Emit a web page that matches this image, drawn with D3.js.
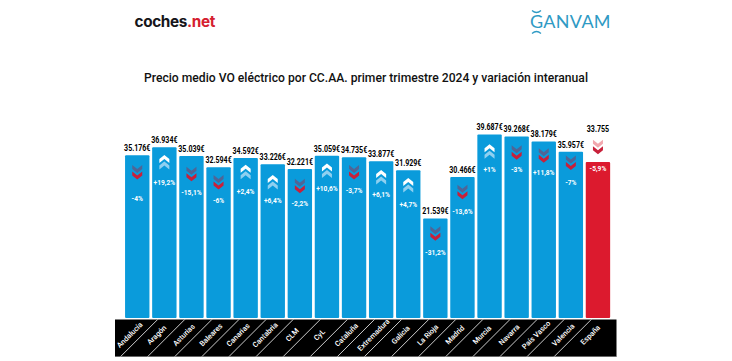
<!DOCTYPE html>
<html>
  <head>
    <meta charset="utf-8">
    <title>Precio medio VO eléctrico</title>
    <script src="https://d3js.org/d3.v7.min.js"></script>
    <style>
      html, body { margin: 0; padding: 0; background: #fff; }
      svg { display: block; }
    </style>
  </head>
  <body>
    <script>
      // ==================
      // Data
      // ==================
      const categories = ["Andalucía", "Aragón", "Asturias", "Baleares", "Canarias", "Cantabria", "CLM", "CyL", "Cataluña",
        "Extremadura", "Galicia", "La Rioja", "Madrid", "Murcia", "Navarra", "País Vasco", "Valencia", "España"];
      const prices = [35176, 36934, 35039, 32594, 34592, 33226, 32221, 35059, 34735,
        33877, 31929, 21539, 30466, 39687, 39268, 38179, 35957, 33755];
      const variation = [-4, 19.2, -15.1, -6, 2.4, 6.4, -2.2, 10.6, -3.7,
        6.1, 4.7, -31.2, -13.6, 1, -3, 11.8, -7, -5.9];
      // arrow as printed: País Vasco shows a down arrow next to a positive figure
      const arrows = ["down", "up", "down", "down", "up", "up", "down", "up", "down",
        "up", "up", "down", "down", "up", "down", "down", "down", "down"];

      const total = "España";
      const title = "Precio medio VO eléctrico por CC.AA. primer trimestre 2024 y variación interanual";

      // ==================
      // Layout
      // ==================
      const width = 732;
      const height = 361;
      const blue = "#0a9bdb";
      const red = "#dc1a2e";

      // arrow and label nudges [arrow, label] from the default spot under the bar top
      const nudges = {
        "Andalucía": [2, 9], "Aragón": [0, 1], "Asturias": [3, 3], "Baleares": [0, -1], "Canarias": [-1, -1],
        "Cantabria": [3, 2], "CLM": [2, 1], "CyL": [0, -1], "Cataluña": [0, -1], "Extremadura": [1, -1],
        "Murcia": [2, 1], "Navarra": [1, -1], "País Vasco": [-1, -3], "Valencia": [-4, -3], "España": [-30, -27]
      };

      const es = d3.formatLocale({decimal: ",", thousands: ".", grouping: [3], currency: ["", "€"], minus: "-"});
      const priceFormat = es.format("$,");
      const plainFormat = es.format(",");
      const varFormat = es.format("+.1~f");

      const svg = d3.select("body").append("svg")
        .attr("width", width)
        .attr("height", height)
        .style("font-family", "Roboto, sans-serif");

      const x = d3.scaleBand()
        .domain(categories)
        .range([123.7, 611.5])
        .paddingInner(0.1)
        .paddingOuter(0.05);

      const y = d3.scaleLinear()
        .domain([0, 40000])
        .range([318, 133]);

      const data = categories.map(function(c, i) {
        return {name: c, price: prices[i], change: variation[i], arrow: arrows[i]};
      });

      // ==================
      // Logos and title
      // ==================
      const coches = svg.append("text")
        .attr("x", 134.5)
        .attr("y", 27)
        .attr("font-family", "Inter, sans-serif")
        .attr("font-weight", 700)
        .attr("font-size", 15.3)
        .attr("letter-spacing", -0.35);
      coches.append("tspan").attr("fill", "#16151a").text("coches");
      coches.append("tspan").attr("fill", "#d5202f").text(".net");

      svg.append("text")
        .attr("x", 530)
        .attr("y", 28)
        .attr("fill", "#2f9ac4")
        .attr("font-family", "Lato, sans-serif")
        .attr("font-size", 18)
        .attr("letter-spacing", 0.3)
        .text("GANVAM");

      // small arcs above and below the G
      svg.append("path")
        .attr("d", "M532,10.5 Q536.5,14.5 541,10.5 M532,33.5 Q536.5,29.5 541,33.5")
        .attr("fill", "none")
        .attr("stroke", "#2f9ac4")
        .attr("stroke-width", 1.2);

      svg.append("text")
        .attr("x", 366)
        .attr("y", 81.5)
        .attr("text-anchor", "middle")
        .attr("font-weight", 500)
        .attr("font-size", 12.15)
        .attr("fill", "#111")
        .text(title);

      // ==================
      // Bars
      // ==================
      svg.append("g").selectAll("rect")
        .data(data)
        .join("rect")
          .attr("x", function(d) { return x(d.name); })
          .attr("y", function(d) { return y(d.price); })
          .attr("width", x.bandwidth())
          .attr("height", function(d) { return y(0) - y(d.price); })
          .attr("rx", 1)
          .attr("fill", function(d) { return d.name === total ? red : blue; });

      // value above each bar, squeezed horizontally to look condensed like the original
      svg.append("g").selectAll("text")
        .data(data)
        .join("text")
          .attr("transform", function(d) {
            const labelX = x(d.name) + x.bandwidth() / 2;
            const labelY = y(d.price) - (d.name === total ? 30 : 4);
            return "translate(" + labelX + "," + labelY + ") scale(0.84,1)";
          })
          .attr("text-anchor", "middle")
          .attr("font-weight", 700)
          .attr("font-size", 8.4)
          .attr("fill", "#000")
          .text(function(d) { return d.name === total ? plainFormat(d.price) : priceFormat(d.price); });

      // ==================
      // Arrows
      // ==================
      function chevron(cy, dir) {
        // arm half width 5, thickness 4, tip 4 past the shoulders
        const s = dir === "up" ? -1 : 1;
        return d3.line()([
          [-5, cy - s * 4], [0, cy], [5, cy - s * 4],
          [5, cy], [0, cy + s * 4], [-5, cy]
        ]) + "Z";
      }

      function nudge(d, i) {
        return (nudges[d.name] || [0, 0])[i];
      }

      const arrowGroups = svg.append("g").selectAll("g")
        .data(data)
        .join("g")
          .attr("transform", function(d) {
            return "translate(" + (x(d.name) + x.bandwidth() / 2) + "," + (y(d.price) + 15 + nudge(d, 0)) + ")";
          });

      // back chevron, further from the tip
      arrowGroups.append("path")
        .attr("d", function(d) { return chevron(d.arrow === "up" ? 3.25 : -3.25, d.arrow); })
        .attr("fill", function(d) {
          if (d.name === total) return "#f2a7ae";
          return d.arrow === "up" ? "#8fd0f0" : "#4f6596";
        });

      // front chevron
      arrowGroups.append("path")
        .attr("d", function(d) { return chevron(d.arrow === "up" ? -3.25 : 3.25, d.arrow); })
        .attr("fill", function(d) { return d.arrow === "up" ? "#fff" : "#c8203a"; });

      // variation label inside the bar
      svg.append("g").selectAll("text")
        .data(data)
        .join("text")
          .attr("x", function(d) { return x(d.name) + x.bandwidth() / 2; })
          .attr("y", function(d) { return y(d.price) + 36.5 + nudge(d, 1); })
          .attr("text-anchor", "middle")
          .attr("font-weight", 700)
          .attr("font-size", 6.6)
          .attr("fill", "#fff")
          .text(function(d) { return varFormat(d.change) + "%"; });

      // ==================
      // Black category strip
      // ==================
      const stripTop = 319.5;
      const stripBottom = 356.5;

      svg.append("rect")
        .attr("x", 115)
        .attr("y", stripTop)
        .attr("width", 501.5)
        .attr("height", stripBottom - stripTop)
        .attr("fill", "#000");

      svg.append("line")
        .attr("x1", 115)
        .attr("x2", 616.5)
        .attr("y1", stripBottom)
        .attr("y2", stripBottom)
        .attr("stroke", "#666");

      // slanted separators, one before each category but the first
      svg.append("g").selectAll("line")
        .data(categories.slice(1))
        .join("line")
          .attr("x1", function(c) { return x(c) + 5.5; })
          .attr("x2", function(c) { return x(c) + 5.5 - 37; })
          .attr("y1", stripTop)
          .attr("y2", stripBottom)
          .attr("stroke", "#fff")
          .attr("stroke-width", 0.8);

      const xAxis = d3.axisBottom(x).tickSize(0);

      const axisGroup = svg.append("g")
        .attr("transform", "translate(-7.5,335)")
        .call(xAxis);

      axisGroup.select(".domain").remove();

      axisGroup.selectAll("text")
        .attr("y", 0)
        .attr("dy", "0.32em")
        .attr("transform", "rotate(-45)")
        .attr("text-anchor", "middle")
        .attr("fill", "#fff")
        .style("font-family", "Roboto, sans-serif")
        .style("font-weight", 500)
        .style("font-size", "7.4px");
    </script>
  </body>
</html>
